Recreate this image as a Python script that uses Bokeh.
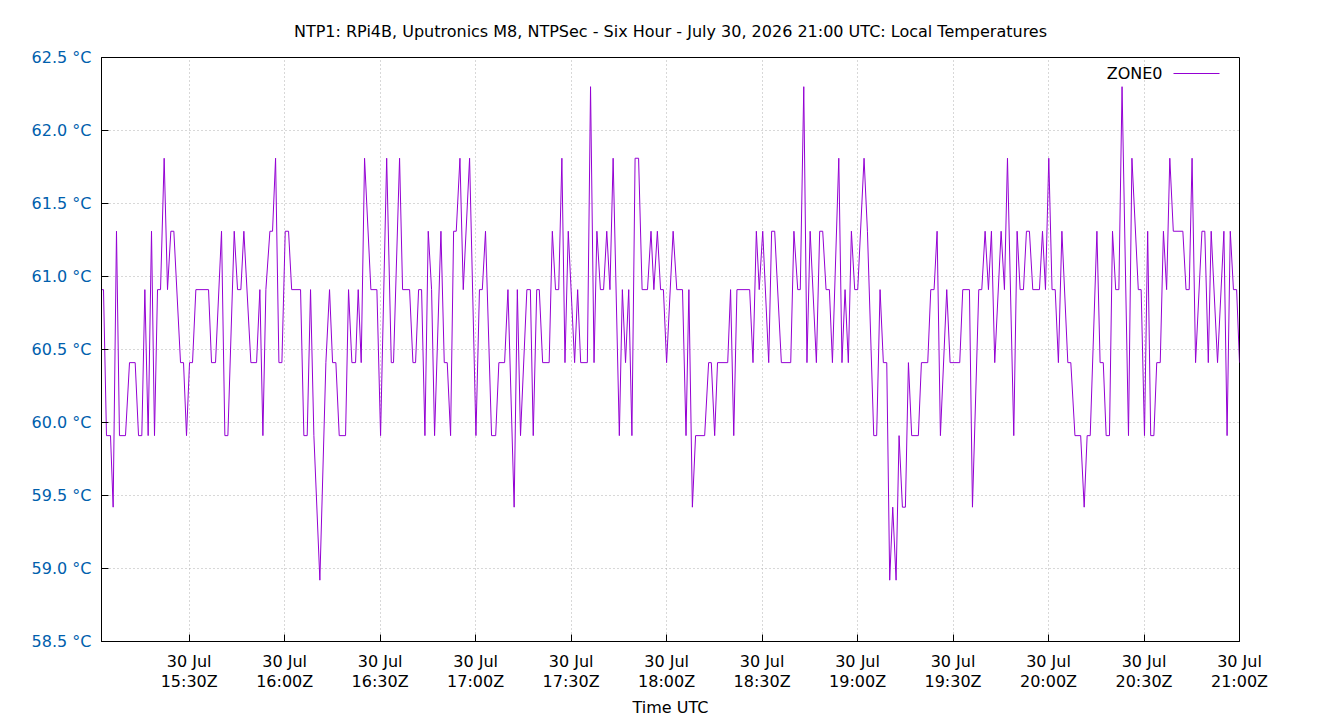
from bokeh.plotting import figure
from bokeh.models import Range1d, FixedTicker, PrintfTickFormatter, Label, BoxAnnotation
from bokeh.embed import file_html
from bokeh.resources import INLINE

# sample times, minutes after 15:00 UTC on 30 Jul 2026
minutes = [
    2.45, 3.08, 4.02, 5.28, 6.11, 7.16, 8.10, 9.99, 11.25, 13.03,
    14.08, 15.12, 16.07, 17.11, 18.16, 19.10, 20.05, 21.00, 22.14, 23.19,
    24.24, 25.18, 27.28, 28.22, 29.16, 30.11, 31.05, 32.10, 36.08, 37.02,
    38.28, 40.16, 41.21, 42.16, 44.15, 45.19, 46.24, 47.18, 49.38, 51.17,
    52.21, 53.16, 54.10, 55.36, 56.19, 57.14, 58.19, 59.13, 60.18, 61.22,
    62.20, 64.99, 66.03, 67.08, 68.13, 69.18, 71.06, 72.95, 74.10, 75.05,
    76.09, 77.14, 79.13, 80.07, 81.12, 82.27, 83.11, 84.05, 85.10, 87.09,
    88.98, 90.13, 92.05, 93.50, 94.20, 96.10, 97.05, 99.25, 100.30, 101.13,
    102.08, 103.02, 104.07, 105.11, 106.16, 107.10, 109.10, 110.14, 111.08, 112.13,
    113.08, 113.91, 115.07, 116.11, 118.10, 120.10, 121.20, 122.10, 123.10, 125.00,
    126.30, 127.30, 129.10, 130.15, 132.10, 133.10, 134.10, 136.10, 137.20, 138.10,
    139.20, 140.00, 141.05, 143.10, 144.10, 145.10, 146.10, 147.10, 148.07, 149.10,
    151.10, 152.05, 153.00, 155.10, 156.10, 157.20, 158.10, 159.20, 160.20, 161.20,
    162.20, 163.20, 165.15, 166.10, 167.10, 168.10, 169.10, 170.10, 171.20, 172.30,
    174.00, 175.10, 176.00, 177.10, 178.10, 179.00, 180.00, 182.05, 183.20, 185.00,
    186.10, 187.00, 188.10, 189.10, 191.96, 193.20, 194.05, 195.10, 196.00, 199.20,
    200.10, 201.10, 202.10, 206.10, 207.15, 208.20, 209.10, 210.20, 212.08, 213.00,
    213.96, 216.06, 219.00, 220.00, 221.20, 222.00, 223.10, 224.10, 225.10, 227.06,
    228.10, 229.05, 230.10, 231.15, 232.10, 234.10, 235.10, 236.07, 237.10, 238.06,
    239.10, 240.05, 242.04, 243.10, 245.08, 246.00, 247.07, 248.10, 249.17, 250.10,
    251.05, 252.10, 253.04, 254.09, 255.03, 255.98, 257.00, 259.10, 260.06, 262.05,
    263.00, 264.04, 264.99, 266.03, 268.02, 269.07, 272.10, 273.05, 275.15, 276.10,
    278.08, 279.03, 280.07, 281.12, 282.06, 283.10, 285.10, 286.15, 287.10, 289.08,
    290.13, 291.07, 292.12, 293.06, 294.00, 295.05, 297.15, 298.10, 299.04, 300.08,
    301.10, 302.10, 303.10, 304.20, 306.06, 307.00, 308.30, 310.10, 311.20, 312.13,
    313.10, 315.20, 316.20, 317.20, 318.10, 319.15, 320.10, 321.10, 322.10, 323.10,
    325.12, 326.20, 328.20, 329.10, 330.15, 331.15, 332.10, 333.10, 334.00, 335.10,
    336.10, 337.10, 338.10, 339.20, 342.20, 343.20, 344.20, 345.10, 346.20, 348.20,
    349.10, 350.20, 351.10, 353.10, 355.10, 356.10, 357.10, 358.10, 359.10, 360.00,
]

# ZONE0 temperature, degrees C
zone0 = [
    60.91, 60.91, 59.91, 59.91, 59.42, 61.31, 59.91, 59.91, 60.41, 60.41,
    59.91, 59.91, 60.91, 59.91, 61.31, 59.91, 60.91, 60.91, 61.81, 60.91,
    61.31, 61.31, 60.41, 60.41, 59.91, 60.41, 60.41, 60.91, 60.91, 60.41,
    60.41, 61.31, 59.91, 59.91, 61.31, 60.91, 60.91, 61.31, 60.41, 60.41,
    60.91, 59.91, 60.91, 61.31, 61.31, 61.81, 60.41, 60.41, 61.31, 61.31,
    60.91, 60.91, 59.91, 59.91, 60.91, 59.91, 58.92, 60.41, 60.91, 60.41,
    60.41, 59.91, 59.91, 60.91, 60.41, 60.41, 60.91, 60.41, 61.81, 60.91,
    60.91, 59.91, 61.81, 60.41, 60.41, 61.81, 60.91, 60.91, 60.41, 60.41,
    60.91, 60.91, 59.91, 61.31, 60.91, 59.91, 61.31, 60.41, 60.41, 59.91,
    61.31, 61.31, 61.81, 60.91, 61.81, 59.91, 60.91, 60.91, 61.31, 59.91,
    59.91, 60.41, 60.41, 60.91, 59.42, 60.91, 59.91, 60.91, 60.91, 59.91,
    60.91, 60.91, 60.41, 60.41, 61.31, 60.91, 60.91, 61.81, 60.41, 61.31,
    60.41, 60.91, 60.41, 60.41, 62.30, 60.41, 61.31, 60.91, 60.91, 61.31,
    60.91, 61.81, 59.91, 60.91, 60.41, 60.91, 59.91, 61.81, 61.81, 60.91,
    60.91, 61.31, 60.91, 61.31, 60.91, 60.91, 60.41, 61.31, 60.91, 60.91,
    59.91, 60.91, 59.42, 59.91, 59.91, 60.41, 60.41, 59.91, 60.41, 60.41,
    60.91, 59.91, 60.91, 60.91, 60.41, 61.31, 60.91, 61.31, 60.41, 61.31,
    61.31, 60.41, 60.41, 61.31, 60.91, 60.91, 62.30, 60.41, 61.31, 60.41,
    61.31, 61.31, 60.91, 60.91, 60.41, 61.81, 60.41, 60.91, 60.41, 61.31,
    60.91, 60.91, 61.81, 61.31, 59.91, 59.91, 60.91, 60.41, 60.41, 58.92,
    59.42, 58.92, 59.91, 59.42, 59.42, 60.41, 59.91, 59.91, 60.41, 60.41,
    60.91, 60.91, 61.31, 59.91, 60.91, 60.41, 60.41, 60.91, 60.91, 59.42,
    60.91, 60.91, 61.31, 60.91, 61.31, 60.41, 61.31, 60.91, 61.81, 59.91,
    61.31, 60.91, 60.91, 61.31, 61.31, 60.91, 60.91, 61.31, 60.91, 61.81,
    60.91, 60.91, 60.41, 61.31, 60.41, 60.41, 59.91, 59.91, 59.42, 59.91,
    59.91, 61.31, 60.41, 60.41, 59.91, 59.91, 61.31, 60.91, 60.91, 62.30,
    59.91, 61.81, 60.91, 60.91, 59.91, 61.31, 59.91, 59.91, 60.41, 60.41,
    61.31, 60.91, 61.81, 61.31, 61.31, 60.91, 60.91, 61.81, 60.41, 61.31,
    61.31, 60.41, 61.31, 60.41, 61.31, 59.91, 61.31, 60.91, 60.91, 60.41,
]

x_ticks = [30, 60, 90, 120, 150, 180, 210, 240, 270, 300, 330, 360]
x_tick_labels = ["30 Jul\n15:30Z", "30 Jul\n16:00Z", "30 Jul\n16:30Z", "30 Jul\n17:00Z",
                 "30 Jul\n17:30Z", "30 Jul\n18:00Z", "30 Jul\n18:30Z", "30 Jul\n19:00Z",
                 "30 Jul\n19:30Z", "30 Jul\n20:00Z", "30 Jul\n20:30Z", "30 Jul\n21:00Z"]
y_ticks = [58.5, 59.0, 59.5, 60.0, 60.5, 61.0, 61.5, 62.0, 62.5]

FONT = "DejaVu Sans"
VIOLET = "#9400d3"
FS = "16px"

p = figure(width=1340, height=720,
           x_range=Range1d(minutes[0], minutes[-1]), y_range=Range1d(58.5, 62.5),
           output_backend="svg", toolbar_location=None,
           min_border_left=101, min_border_right=101,
           min_border_top=57, min_border_bottom=79)

p.title.text = "NTP1: RPi4B, Uputronics M8, NTPSec - Six Hour - July 30, 2026 21:00 UTC: Local Temperatures"
p.title.align = "center"
p.title.text_font = FONT
p.title.text_font_size = FS
p.title.text_font_style = "normal"
p.title.text_color = "black"
p.title.standoff = 34

p.outline_line_color = "black"
p.outline_line_width = 1
p.background_fill_color = "white"
p.border_fill_color = "white"

p.line(minutes, zone0, line_color=VIOLET, line_width=1)

# axes
p.xaxis.ticker = FixedTicker(ticks=x_ticks)
p.xaxis.major_label_overrides = dict(zip(x_ticks, x_tick_labels))
p.xaxis.axis_label = "Time UTC"
p.xaxis.axis_label_text_font = FONT
p.xaxis.axis_label_text_font_size = FS
p.xaxis.axis_label_text_font_style = "normal"
p.xaxis.axis_label_text_color = "black"
p.xaxis.axis_label_standoff = 4
p.xaxis.major_label_text_font = FONT
p.xaxis.major_label_text_font_size = FS
p.xaxis.major_label_text_line_height = 1.1
p.xaxis.major_label_text_color = "black"
p.xaxis.major_label_standoff = 10
p.xaxis.major_tick_in = 7
p.xaxis.major_tick_out = 0
p.xaxis.minor_tick_line_color = None
p.xaxis.axis_line_color = "black"

p.yaxis.ticker = FixedTicker(ticks=y_ticks)
p.yaxis.formatter = PrintfTickFormatter(format="%.1f °C")
p.yaxis.major_label_text_font = FONT
p.yaxis.major_label_text_font_size = FS
p.yaxis.major_label_text_color = "#0060ad"
p.yaxis.major_label_standoff = 10
p.yaxis.major_tick_in = 7
p.yaxis.major_tick_out = 0
p.yaxis.minor_tick_line_color = None
p.yaxis.axis_line_color = "black"

for g in (p.xgrid, p.ygrid):
    g.grid_line_color = "#b0b0b0"
    g.grid_line_dash = "1 3"
    g.grid_line_width = 1

# legend (text left of sample line, as in the original)
p.add_layout(Label(x=1061, y=568, x_units="screen", y_units="screen", text="ZONE0",
                   text_align="right", text_baseline="middle",
                   text_font=FONT, text_font_size=FS, text_color="black"))
p.add_layout(BoxAnnotation(left=1072, right=1118, bottom=567.5, top=568.5,
                           left_units="screen", right_units="screen",
                           bottom_units="screen", top_units="screen",
                           fill_color=VIOLET, fill_alpha=1.0, line_alpha=0))

open("out.html", "w").write(file_html(p, INLINE))
